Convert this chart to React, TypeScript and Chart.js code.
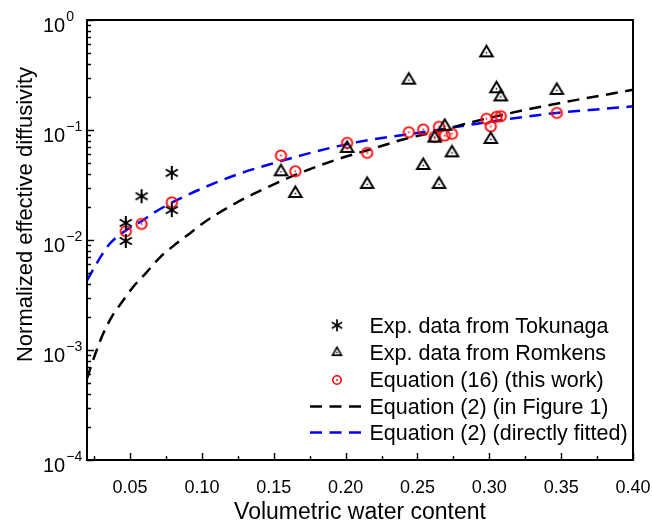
import React, { useEffect, useRef } from "react";
import { Chart, registerables } from "chart.js";

Chart.register(...registerables);

// ---- data ----
const tokunagaX = [0.047, 0.047, 0.058, 0.079, 0.079];
const tokunagaY = [0.0143, 0.0098, 0.025, 0.0408, 0.0187];

const romkensX = [0.155, 0.165, 0.201, 0.215, 0.244, 0.254, 0.262, 0.265, 0.269, 0.274, 0.298, 0.301, 0.305, 0.308, 0.347];
const romkensY = [0.0417, 0.0265, 0.068, 0.032, 0.284, 0.0476, 0.0843, 0.032, 0.108, 0.062, 0.503, 0.082, 0.237, 0.2, 0.229];

const eq16X = [0.047, 0.058, 0.079, 0.155, 0.165, 0.201, 0.215, 0.244, 0.254, 0.262, 0.265, 0.269, 0.274, 0.298, 0.301, 0.305, 0.308, 0.347];
const eq16Y = [0.012, 0.014, 0.022, 0.0586, 0.0422, 0.0764, 0.062, 0.0955, 0.101, 0.0867, 0.107, 0.089, 0.0923, 0.1264, 0.108, 0.1318, 0.1336, 0.143];

const eq2FigX = [0.020, 0.026, 0.031, 0.0375, 0.045, 0.0525, 0.061, 0.071, 0.080, 0.092, 0.101, 0.124, 0.147, 0.171, 0.194, 0.217, 0.240, 0.264, 0.289, 0.312, 0.335, 0.358, 0.380, 0.400];
const eq2FigY = [0.00055, 0.00094, 0.00138, 0.00203, 0.0028, 0.0038, 0.0050, 0.0070, 0.0088, 0.0116, 0.0143, 0.0218, 0.0308, 0.0420, 0.0540, 0.0665, 0.0820, 0.0975, 0.1190, 0.1400, 0.1620, 0.1850, 0.2080, 0.2320];

const eq2FitX = [0.020, 0.025, 0.030, 0.036, 0.047, 0.058, 0.066, 0.080, 0.101, 0.124, 0.150, 0.171, 0.194, 0.217, 0.240, 0.264, 0.289, 0.312, 0.335, 0.347, 0.370, 0.400];
const eq2FitY = [0.0043, 0.0056, 0.0072, 0.0093, 0.0122, 0.0148, 0.0175, 0.0222, 0.0298, 0.0392, 0.0500, 0.0597, 0.0710, 0.0815, 0.0900, 0.1000, 0.1130, 0.1250, 0.1370, 0.1430, 0.1520, 0.1640];

const xMajorTicks = [0.05, 0.10, 0.15, 0.20, 0.25, 0.30, 0.35, 0.40];
const xTickLabels = ["0.05", "0.10", "0.15", "0.20", "0.25", "0.30", "0.35", "0.40"];
const xMinorTicks = [0.025, 0.075, 0.125, 0.175, 0.225, 0.275, 0.325, 0.375];
const yMajorTicks = [1e-4, 1e-3, 1e-2, 1e-1, 1];
const yTickExponents = ["\u22124", "\u22123", "\u22122", "\u22121", "0"];
const yMinorMultipliers = [2, 3, 4, 5, 6, 7, 8, 9];

const legendLabels = [
  "Exp. data from Tokunaga",
  "Exp. data from Romkens",
  "Equation (16) (this work)",
  "Equation (2) (in Figure 1)",
  "Equation (2) (directly fitted)",
];

const FONT = '"Liberation Sans", Arial, sans-serif';

function makeStar(r: number, lw: number) {
  const s = Math.ceil(r * 2 + lw + 2);
  const c = document.createElement("canvas");
  c.width = s; c.height = s;
  const g = c.getContext("2d")!;
  const m = s / 2;
  g.strokeStyle = "#000";
  g.lineWidth = lw;
  g.lineCap = "butt";
  [90, 30, 150].forEach((deg) => {
    const a = (deg * Math.PI) / 180;
    g.beginPath();
    g.moveTo(m - r * Math.cos(a), m - r * Math.sin(a));
    g.lineTo(m + r * Math.cos(a), m + r * Math.sin(a));
    g.stroke();
  });
  return c;
}

function makeTriangle(w: number, h: number, lw: number) {
  const s = Math.ceil(Math.max(w, h) + lw + 4);
  const c = document.createElement("canvas");
  c.width = s; c.height = s;
  const g = c.getContext("2d")!;
  const m = s / 2;
  g.strokeStyle = "#000";
  g.lineWidth = lw;
  g.lineJoin = "miter";
  g.beginPath();
  g.moveTo(m, m - (h * 2) / 3);
  g.lineTo(m + w / 2, m + h / 3);
  g.lineTo(m - w / 2, m + h / 3);
  g.closePath();
  g.stroke();
  g.fillStyle = "#000";
  g.fillRect(m - 0.75, m - 0.75, 1.5, 1.5);
  return c;
}

function makeCircle(r: number, lw: number) {
  const s = Math.ceil(r * 2 + lw + 2);
  const c = document.createElement("canvas");
  c.width = s; c.height = s;
  const g = c.getContext("2d")!;
  const m = s / 2;
  g.strokeStyle = "#ff0000";
  g.lineWidth = lw;
  g.beginPath();
  g.arc(m, m, r, 0, Math.PI * 2);
  g.stroke();
  g.fillStyle = "#ff0000";
  g.beginPath();
  g.arc(m, m, 0.9, 0, Math.PI * 2);
  g.fill();
  return c;
}

export default function App() {
  const ref = useRef<HTMLCanvasElement | null>(null);

  useEffect(() => {
    if (!ref.current) return;
    const star = makeStar(7, 2);
    const tri = makeTriangle(12.5, 10.5, 2);
    const circ = makeCircle(5.2, 1.8);
    const starL = makeStar(6, 1.7);
    const triL = makeTriangle(9, 8, 1.6);
    const circL = makeCircle(4.2, 1.6);

    const axesPlugin = {
      id: "customAxes",
      afterDraw(chart: any) {
        const ctx = chart.ctx as CanvasRenderingContext2D;
        const { left, right, top, bottom } = chart.chartArea;
        const xs = chart.scales.x;
        const ys = chart.scales.y;
        ctx.save();
        ctx.strokeStyle = "#000";
        ctx.lineWidth = 2;
        ctx.strokeRect(left, top, right - left, bottom - top);

        // x ticks (inward)
        ctx.lineWidth = 1.5;
        xMajorTicks.forEach((v) => {
          const px = Math.round(xs.getPixelForValue(v)) + 0.5;
          ctx.beginPath(); ctx.moveTo(px, bottom); ctx.lineTo(px, bottom - 7); ctx.stroke();
        });
        xMinorTicks.forEach((v) => {
          const px = Math.round(xs.getPixelForValue(v)) + 0.5;
          ctx.beginPath(); ctx.moveTo(px, bottom); ctx.lineTo(px, bottom - 4); ctx.stroke();
        });
        // y ticks (inward)
        yMajorTicks.forEach((v, i) => {
          const py = Math.round(ys.getPixelForValue(v)) + 0.5;
          ctx.beginPath(); ctx.moveTo(left, py); ctx.lineTo(left + 7, py); ctx.stroke();
          if (i < yMajorTicks.length - 1) {
            yMinorMultipliers.forEach((m) => {
              const pm = Math.round(ys.getPixelForValue(v * m)) + 0.5;
              ctx.beginPath(); ctx.moveTo(left, pm); ctx.lineTo(left + 4, pm); ctx.stroke();
            });
          }
        });

        // x tick labels
        ctx.fillStyle = "#000";
        ctx.font = `18px ${FONT}`;
        ctx.textAlign = "center";
        ctx.textBaseline = "alphabetic";
        xMajorTicks.forEach((v, i) => {
          ctx.fillText(xTickLabels[i], xs.getPixelForValue(v), 492.5);
        });
        // y tick labels 10^n
        yMajorTicks.forEach((v, i) => {
          const py = ys.getPixelForValue(v);
          ctx.textAlign = "left";
          ctx.font = `20px ${FONT}`;
          ctx.fillText("10", 43, py + 11.5);
          const w = ctx.measureText("10").width;
          ctx.font = `14px ${FONT}`;
          ctx.fillText(yTickExponents[i], 43 + w + 1, py + 1);
        });

        // axis titles
        ctx.font = `23px ${FONT}`;
        ctx.textAlign = "center";
        ctx.fillText("Volumetric water content", (left + right) / 2, 518.5);
        ctx.font = `22px ${FONT}`;
        ctx.save();
        ctx.translate(31.5, 214.5);
        ctx.rotate(-Math.PI / 2);
        ctx.fillText("Normalized effective diffusivity", 0, 0);
        ctx.restore();

        // legend
        const baselines = [333, 360, 387, 413.5, 440];
        const symX = 337;
        ctx.textAlign = "left";
        ctx.font = `21.5px ${FONT}`;
        legendLabels.forEach((t, i) => ctx.fillText(t, 369.5, baselines[i]));
        const drawImg = (img: HTMLCanvasElement, cx: number, cy: number) =>
          ctx.drawImage(img, cx - img.width / 2, cy - img.height / 2);
        drawImg(starL, symX, 325.3);
        drawImg(triL, symX, 352.6);
        drawImg(circL, symX, 380);
        const lineSample = (y: number, color: string) => {
          ctx.save();
          ctx.strokeStyle = color;
          ctx.lineWidth = 2.5;
          ctx.setLineDash([12, 7.5]);
          ctx.beginPath(); ctx.moveTo(310, y); ctx.lineTo(361, y); ctx.stroke();
          ctx.restore();
        };
        lineSample(406.4, "#000");
        lineSample(432.4, "#0000ff");
        ctx.restore();
      },
    };

    const toPts = (xs: number[], ys: number[]) => xs.map((x, i) => ({ x, y: ys[i] }));

    const chart = new Chart(ref.current, {
      type: "scatter",
      data: {
        datasets: [
          { label: legendLabels[0], data: toPts(tokunagaX, tokunagaY), pointStyle: star as any, pointRadius: 6, showLine: false },
          { label: legendLabels[1], data: toPts(romkensX, romkensY), pointStyle: tri as any, pointRadius: 6, showLine: false },
          { label: legendLabels[2], data: toPts(eq16X, eq16Y), pointStyle: circ as any, pointRadius: 6, showLine: false },
          {
            label: legendLabels[3], data: toPts(eq2FigX, eq2FigY), showLine: true, pointRadius: 0,
            borderColor: "#000", borderWidth: 2.5, borderDash: [12, 7.5], fill: false, cubicInterpolationMode: "monotone",
          } as any,
          {
            label: legendLabels[4], data: toPts(eq2FitX, eq2FitY), showLine: true, pointRadius: 0,
            borderColor: "#0000ff", borderWidth: 2.5, borderDash: [12, 7.5], fill: false, cubicInterpolationMode: "monotone",
          } as any,
        ],
      },
      options: {
        responsive: false,
        animation: false,
        devicePixelRatio: 1,
        layout: { padding: { left: 87, top: 20, right: 19, bottom: 63 } },
        plugins: { legend: { display: false }, tooltip: { enabled: false } },
        scales: {
          x: { type: "linear", min: 0.02, max: 0.4, display: false },
          y: { type: "logarithmic", min: 1e-4, max: 1, display: false },
        },
      },
      plugins: [axesPlugin],
    });
    return () => chart.destroy();
  }, []);

  return (
    <div style={{ position: "absolute", left: 0, top: 0, width: 652, height: 523, background: "#fff" }}>
      <canvas ref={ref} width={652} height={523} style={{ width: 652, height: 523 }} />
    </div>
  );
}
